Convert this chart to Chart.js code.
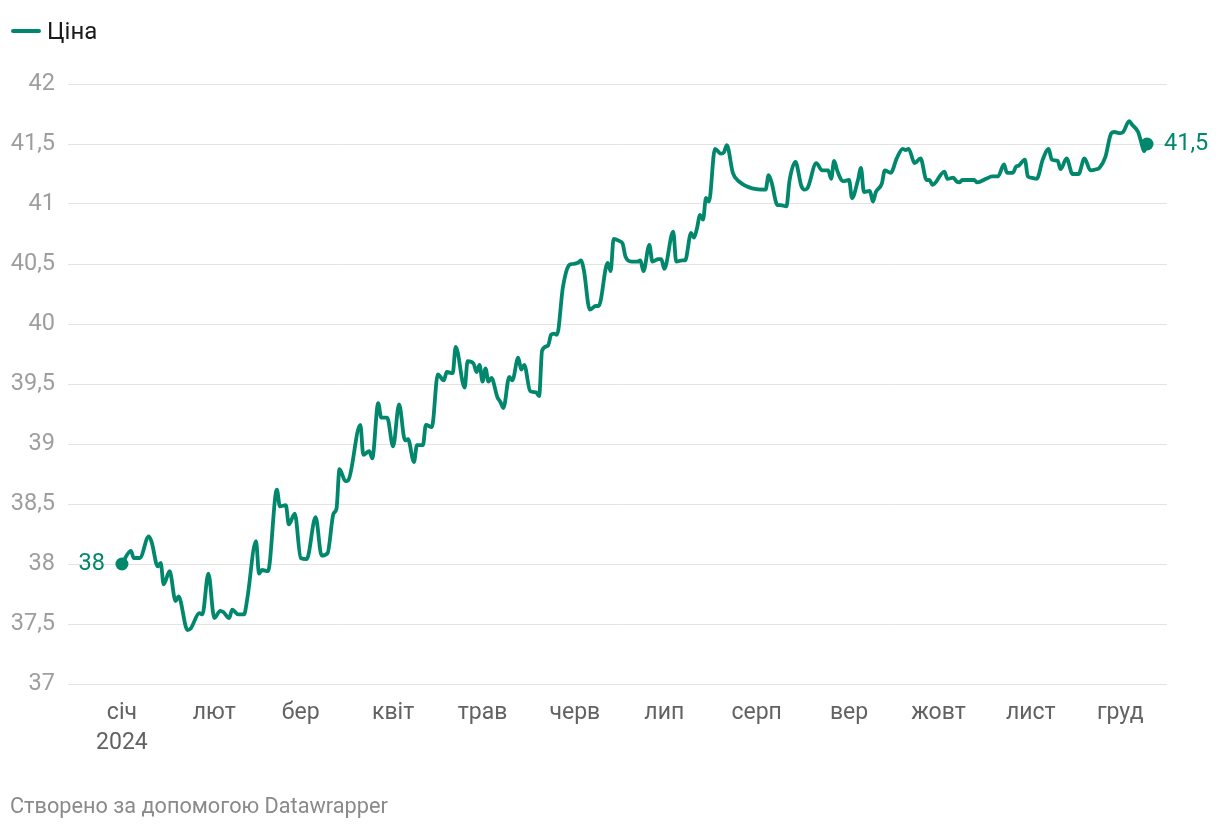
<!DOCTYPE html>
<html><head><meta charset="utf-8">
<script src="https://cdn.jsdelivr.net/npm/chart.js@4.4.1/dist/chart.umd.min.js"></script>
<style>
body{margin:0;background:#fff;font-family:Roboto,sans-serif;}
#wrap{position:relative;width:1220px;height:830px;overflow:hidden;}
canvas{position:absolute;left:0;top:0;}
#legend{position:absolute;left:11px;top:17px;font-size:24px;color:#1a1a1a;display:flex;align-items:center;line-height:28px;}
#legend .sw{display:inline-block;width:30px;height:4px;background:#00876c;border-radius:2px;margin-right:6px;}
#footer{position:absolute;left:10px;top:793px;font-size:21.7px;color:#8a8a8a;}
</style></head>
<body><div id="wrap"><canvas id="c" width="1220" height="830"></canvas>
<div id="legend"><span class="sw"></span>Ціна</div>
<div id="footer">Створено за допомогою Datawrapper</div></div>
<script>
const seriesName = 'Ціна';
const days = [0,3,4,6,9,10,12,13,14,16,18,19,22,23,26,27,29,31,33,34,36,37,39,41,42,45,46,47,49,52,53,55,56,58,60,62,65,67,69,71,72,73,75,76,80,81,83,84,86,87,89,91,93,95,96,98,99,101,102,104,106,108,109,111,112,115,116,118,119,120,121,122,123,124,126,127,128,130,131,133,134,135,137,139,140,141,143,144,145,146,148,150,151,153,154,155,157,159,160,163,164,165,167,168,169,171,173,174,175,177,178,180,181,182,185,186,188,189,191,192,193,194,195,196,197,199,201,202,203,205,207,216,217,218,220,221,223,224,226,228,229,230,233,235,237,238,239,240,242,244,245,247,248,249,251,252,253,255,256,258,260,262,263,264,266,268,270,271,272,276,277,279,280,281,282,284,286,287,290,292,294,296,297,299,300,301,303,304,305,307,309,311,312,314,315,317,319,321,323,325,327,328,330,332,333,335,336,338,339,341,342,343,344];
const prices = [38.00,38.11,38.05,38.05,38.23,38.18,37.98,38.01,37.83,37.94,37.69,37.73,37.45,37.46,37.59,37.58,37.92,37.55,37.61,37.60,37.55,37.62,37.58,37.58,37.70,38.19,37.92,37.95,37.94,38.62,38.48,38.49,38.33,38.42,38.05,38.04,38.39,38.07,38.09,38.42,38.46,38.79,38.69,38.70,39.16,38.91,38.94,38.88,39.34,39.22,39.22,38.98,39.33,39.03,39.04,38.85,38.99,38.99,39.16,39.14,39.58,39.53,39.60,39.59,39.81,39.47,39.69,39.67,39.60,39.66,39.52,39.63,39.52,39.55,39.39,39.35,39.30,39.56,39.53,39.72,39.62,39.66,39.44,39.43,39.40,39.78,39.82,39.91,39.92,39.91,40.31,40.49,40.50,40.51,40.53,40.45,40.12,40.15,40.15,40.51,40.44,40.71,40.69,40.67,40.56,40.52,40.52,40.53,40.44,40.66,40.52,40.54,40.54,40.46,40.77,40.52,40.53,40.53,40.76,40.72,40.80,40.91,40.87,41.05,41.02,41.46,41.42,41.43,41.49,41.26,41.19,41.12,41.24,41.18,40.99,40.99,40.98,41.19,41.35,41.15,41.12,41.13,41.34,41.28,41.28,41.21,41.36,41.28,41.19,41.20,41.05,41.20,41.30,41.10,41.11,41.02,41.10,41.17,41.28,41.26,41.38,41.46,41.45,41.46,41.34,41.38,41.20,41.20,41.16,41.27,41.21,41.22,41.19,41.18,41.20,41.20,41.20,41.18,41.21,41.23,41.23,41.33,41.26,41.26,41.31,41.32,41.37,41.23,41.22,41.21,41.37,41.46,41.37,41.36,41.29,41.38,41.25,41.25,41.38,41.28,41.29,41.30,41.39,41.59,41.60,41.59,41.60,41.69,41.66,41.60,41.52,41.44,41.50];
const monthStarts = [0,31,60,91,121,152,182,213,244,274,305,335];
const monthLabels = ['січ','лют','бер','квіт','трав','черв','лип','серп','вер','жовт','лист','груд'];
const yearLabel = '2024';
const yTicks = [37,37.5,38,38.5,39,39.5,40,40.5,41,41.5,42];

const COLOR = '#00876c';
const fmt = v => String(v).replace('.', ',');
const lastIdx = prices.length - 1;

const endLabels = {
  id: 'endLabels',
  afterDatasetsDraw(chart) {
    const meta = chart.getDatasetMeta(0);
    const ctx = chart.ctx;
    ctx.save();
    ctx.font = '23.5px Roboto';
    ctx.fillStyle = COLOR;
    ctx.textBaseline = 'middle';
    const p0 = meta.data[0], pN = meta.data[lastIdx];
    ctx.textAlign = 'right';
    ctx.fillText(fmt(prices[0]), p0.x - 17, p0.y);
    ctx.textAlign = 'left';
    ctx.fillText(fmt(prices[lastIdx]), pN.x + 17, pN.y);
    ctx.restore();
  }
};

new Chart(document.getElementById('c'), {
  type: 'line',
  data: {
    datasets: [{
      label: seriesName,
      data: days.map((d, i) => ({x: d, y: prices[i]})),
      borderColor: COLOR,
      backgroundColor: COLOR,
      borderWidth: 3.8,
      cubicInterpolationMode: 'monotone',
      pointRadius: c => (c.dataIndex === 0 || c.dataIndex === lastIdx) ? 6.5 : 0,
      pointBorderWidth: 0,
      pointBackgroundColor: COLOR,
      pointHoverRadius: 0,
      clip: false
    }]
  },
  options: {
    responsive: false,
    animation: false,
    events: [],
    layout: {padding: {top: 84, right: 53, bottom: 66, left: 0}},
    plugins: {legend: {display: false}, tooltip: {enabled: false}},
    scales: {
      x: {
        type: 'linear',
        min: -18.1,
        max: 350.7,
        afterBuildTicks: s => { s.ticks = monthStarts.map(v => ({value: v})); },
        afterFit: s => { s.height = 80; },
        grid: {display: false},
        border: {display: false},
        ticks: {
          autoSkip: false,
          maxRotation: 0,
          padding: 6,
          color: '#626262',
          font: {family: 'Roboto', size: 23, lineHeight: 1.3},
          callback: (v, i) => i === 0 ? [monthLabels[0], yearLabel] : monthLabels[i]
        }
      },
      y: {
        min: 37,
        max: 42,
        afterBuildTicks: s => { s.ticks = yTicks.map(v => ({value: v})); },
        afterFit: s => { s.width = 68; },
        grid: {color: '#e3e3e3', lineWidth: 1, drawTicks: false},
        border: {display: false},
        ticks: {
          padding: 13,
          color: '#9e9e9e',
          font: {family: 'Roboto', size: 23.5},
          callback: v => fmt(v)
        }
      }
    }
  },
  plugins: [endLabels]
});
</script>
</body></html>
